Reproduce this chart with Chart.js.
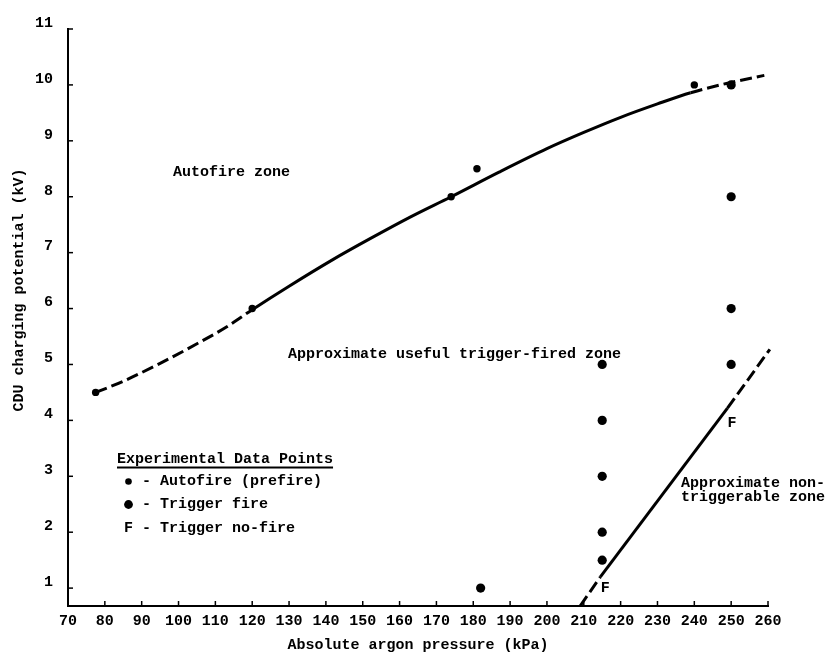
<!DOCTYPE html>
<html lang="en">
<head>
    <meta charset="UTF-8">
    <title>CDU charging potential vs argon pressure</title>
    <script src="https://cdn.jsdelivr.net/npm/chart.js"></script>
    <style>
        html, body { margin: 0; padding: 0; background: #fff; }
        #wrap { width: 831px; height: 654px; }
    </style>
</head>
<body>
    <div id="wrap"><canvas id="myChart" width="831" height="654"></canvas></div>
    <script>
        // tick labels
        const xTicks = [70, 80, 90, 100, 110, 120, 130, 140, 150, 160, 170, 180, 190, 200, 210, 220, 230, 240, 250, 260];
        const yTicks = [1, 2, 3, 4, 5, 6, 7, 8, 9, 10, 11];

        // experimental data points (kPa, kV)
        const autofire = [[77.5, 4.5], [120, 6], [174, 8], [181, 8.5], [240, 10]];
        const triggerFire = [[250, 10], [250, 8], [250, 6], [250, 5], [215, 5], [215, 4], [215, 3], [215, 2], [215, 1.5], [182, 1]];
        const noFire = [[250.2, 3.95], [215.8, 1.0]];

        // autofire boundary curve (dashed below 120 kPa and above 239 kPa)
        const upperCurve = [[77.5, 4.5], [85, 4.7], [95, 5.02], [105, 5.37], [113, 5.67], [120, 5.98], [130, 6.4], [142, 6.88],
            [152, 7.25], [163, 7.64], [174, 8.0], [187, 8.44], [200, 8.86], [210, 9.15], [220, 9.42], [230, 9.66], [239, 9.86],
            [249, 10.03], [259, 10.17]];
        const upperSolidFrom = 120;
        const upperSolidTo = 239;

        // non-triggerable boundary line
        const lowerDashLow = [[209, 0.68], [214.5, 1.2]];
        const lowerSolid = [[214.5, 1.2], [249, 4.22]];
        const lowerDashHigh = [[249, 4.22], [260.5, 5.27]];

        const FONT = '"Liberation Mono", "Courier New", monospace';
        const DASH = [12, 5];
        const toXY = arr => arr.map(p => ({ x: p[0], y: p[1] }));

        function lineSet(data, dashed, clip) {
            return {
                data: toXY(data),
                showLine: true,
                borderColor: '#000',
                borderWidth: 3,
                borderDash: dashed ? DASH : [],
                pointRadius: 0,
                clip: clip === false ? false : undefined
            };
        }

        const textPlugin = {
            id: 'textPlugin',
            afterDraw(chart) {
                const ctx = chart.ctx;
                const xs = chart.scales.x, ys = chart.scales.y;
                const area = chart.chartArea;
                const px = v => xs.getPixelForValue(v);
                const py = v => ys.getPixelForValue(v);
                ctx.save();
                ctx.fillStyle = '#000';
                ctx.strokeStyle = '#000';

                // inward tick marks
                ctx.lineWidth = 1.5;
                yTicks.forEach(v => {
                    ctx.beginPath();
                    ctx.moveTo(area.left, py(v));
                    ctx.lineTo(area.left + 5, py(v));
                    ctx.stroke();
                });
                xTicks.forEach(v => {
                    ctx.beginPath();
                    ctx.moveTo(px(v), area.bottom);
                    ctx.lineTo(px(v), area.bottom - 5);
                    ctx.stroke();
                });

                ctx.font = 'bold 15px ' + FONT;
                ctx.textBaseline = 'middle';

                // F markers
                ctx.textAlign = 'center';
                chart.getDatasetMeta(2).data.forEach(el => ctx.fillText('F', el.x, el.y));

                // zone labels
                ctx.textAlign = 'left';
                ctx.fillText('Autofire zone', px(98.5), py(8.43));
                ctx.fillText('Approximate useful trigger-fired zone', px(129.7), py(5.18));
                ctx.fillText('Approximate non-', px(236.4), py(2.875));
                ctx.fillText('triggerable zone', px(236.4), py(2.625));

                // legend box
                const lx = px(83.3), ly = py(3.3);
                ctx.fillText('Experimental Data Points', lx, ly);
                const w = ctx.measureText('Experimental Data Points').width;
                ctx.fillRect(lx, ly + 7, w, 2);
                const ix = px(85.2);
                ctx.fillText('  - Autofire (prefire)', ix, ly + 22);
                ctx.fillText('  - Trigger fire', ix, ly + 45);
                ctx.fillText('F - Trigger no-fire', ix, ly + 69);
                ctx.beginPath();
                ctx.arc(ix + 4.5, ly + 22, 3.3, 0, Math.PI * 2);
                ctx.fill();
                ctx.beginPath();
                ctx.arc(ix + 4.5, ly + 45, 4.4, 0, Math.PI * 2);
                ctx.fill();

                // y axis title
                ctx.translate(19, 290);
                ctx.rotate(-Math.PI / 2);
                ctx.textAlign = 'center';
                ctx.fillText('CDU charging potential (kV)', 0, 0);
                ctx.restore();
            }
        };

        const ctx = document.getElementById('myChart').getContext('2d');
        new Chart(ctx, {
            type: 'scatter',
            data: {
                datasets: [
                    { data: toXY(autofire), pointRadius: 3.7, pointBackgroundColor: '#000', pointBorderWidth: 0, showLine: false },
                    { data: toXY(triggerFire), pointRadius: 4.6, pointBackgroundColor: '#000', pointBorderWidth: 0, showLine: false },
                    { data: toXY(noFire), pointRadius: 0, showLine: false },
                    {
                        data: toXY(upperCurve),
                        showLine: true,
                        borderColor: '#000',
                        borderWidth: 3,
                        pointRadius: 0,
                        cubicInterpolationMode: 'monotone',
                        segment: {
                            borderDash: c => (c.p0.parsed.x < upperSolidFrom || c.p0.parsed.x >= upperSolidTo) ? DASH : undefined
                        }
                    },
                    lineSet(lowerDashLow, true),
                    lineSet(lowerSolid, false),
                    lineSet(lowerDashHigh, true, false)
                ]
            },
            options: {
                responsive: false,
                animation: false,
                layout: { padding: { top: 29, right: 63, bottom: 0, left: 0 } },
                scales: {
                    x: {
                        type: 'linear',
                        min: 70,
                        max: 260,
                        afterBuildTicks: s => { s.ticks = xTicks.map(v => ({ value: v })); },
                        afterFit: s => { s.height = 48; },
                        grid: { display: false, drawTicks: false },
                        border: { display: true, color: '#000', width: 2 },
                        ticks: { color: '#000', padding: 6, maxRotation: 0, autoSkip: false, font: { family: FONT, size: 15, weight: 'bold' } },
                        title: {
                            display: true,
                            text: 'Absolute argon pressure (kPa)',
                            color: '#000',
                            padding: { top: 4, bottom: 0 },
                            font: { family: FONT, size: 15, weight: 'bold' }
                        }
                    },
                    y: {
                        type: 'linear',
                        min: 0.68,
                        max: 11,
                        afterBuildTicks: s => { s.ticks = yTicks.map(v => ({ value: v })); },
                        afterFit: s => { s.width = 68; },
                        grid: { display: false, drawTicks: false },
                        border: { display: true, color: '#000', width: 2 },
                        ticks: { color: '#000', padding: 15, labelOffset: -6, autoSkip: false, font: { family: FONT, size: 15, weight: 'bold' } }
                    }
                },
                plugins: {
                    legend: { display: false },
                    tooltip: { enabled: false }
                }
            },
            plugins: [textPlugin]
        });
    </script>
</body>
</html>
